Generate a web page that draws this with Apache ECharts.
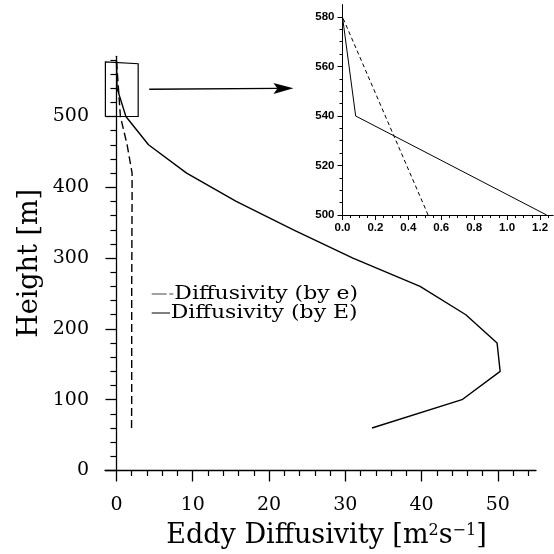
<!DOCTYPE html>
<html><head><meta charset="utf-8">
<script src="https://cdn.jsdelivr.net/npm/echarts@6/dist/echarts.min.js"></script>
<style>html,body{margin:0;padding:0;background:#fff}#c{width:554px;height:554px}</style>
</head><body><div id="c"></div>
<script>
// ---- data ----
const heights  = [60, 100, 140, 180, 220, 260, 300, 340, 380, 420, 460, 500, 540, 580];
const diffByE  = [33.5, 45.3, 50.3, 49.9, 45.8, 39.8, 31.0, 23.2, 15.7, 9.2, 4.2, 1.24, 0.08, 0.0];
const diffBye  = [1.98, 2.0, 2.0, 2.0, 2.0, 2.0, 2.02, 2.03, 2.05, 2.05, 1.4, 0.52, 0.26, 0.0];
const seriesNames = ['Diffusivity (by e)', 'Diffusivity (by E)'];
const mainXTicks = [0, 10, 20, 30, 40, 50];
const mainYTicks = [0, 100, 200, 300, 400, 500];
const insetXTicks = [0, 0.2, 0.4, 0.6, 0.8, 1.0, 1.2];
const insetYTicks = [500, 520, 540, 560, 580];
const insetMinHeight = 500;
// zoom box and arrow annotation, in main-plot data coordinates
const zoomBox = [[-1.45, 500], [-1.45, 577], [2.85, 574.5], [2.85, 500], [-1.45, 500]];
const arrowFrom = [4.3, 538.4];
const arrowTo = [23.2, 539.8];

// minor tick positions
function steps(a, b, n, skipEvery) {
  const out = [];
  for (let i = 0; i <= n; i++) {
    if (skipEvery && i % skipEvery === 0) continue;
    out.push(+(a + (b - a) * i / n).toFixed(4));
  }
  return out;
}
const mainXMinor = steps(0, 54, 27, 5);
const mainYMinor = steps(0, 580, 29, 5);
const insetXMinor = steps(0, 1.25, 25, 4);
const insetYMinor = steps(500, 580, 16, 4);

const SERIF = 'DejaVu Serif';
const SANS = 'Liberation Sans';
const black = '#000';

function pairs(xs, filterFn) {
  const out = [];
  heights.forEach((h, i) => { if (!filterFn || filterFn(h)) out.push([xs[i], h]); });
  return out;
}

const chart = echarts.init(document.getElementById('c'), null, {renderer: 'canvas'});

const mainTickAxis = (extra) => Object.assign({
  gridIndex: 0, type: 'value', min: -1.5, max: 55, position: 'bottom',
  splitLine: {show: false}
}, extra);

const option = {
  animation: false,
  backgroundColor: '#fff',
  grid: [
    {left: 105, right: 18, top: 56.3, bottom: 83.5, containLabel: false, outerBoundsMode: 'none'},
    {left: 342.5, right: 0.8, top: 4.6, bottom: 339, containLabel: false, outerBoundsMode: 'none'}
  ],
  xAxis: [
    mainTickAxis({
      axisLine: {onZero: false, lineStyle: {color: black, width: 1.3}},
      axisTick: {customValues: mainXTicks, length: 11, lineStyle: {color: black, width: 1.3}},
      axisLabel: {customValues: mainXTicks, margin: 25, fontFamily: SERIF, fontSize: 19, color: black, hideOverlap: false},
      name: 'Eddy Diffusivity [m{sup|2}s{sup|\u22121}]',
      nameLocation: 'middle', nameGap: 52, nameMoveOverlap: false,
      nameTextStyle: {fontFamily: SERIF, fontSize: 27, color: black, padding: [0, 0, 0, 12], lineHeight: 27,
        rich: {sup: {fontFamily: SERIF, fontSize: 16, color: black, verticalAlign: 'top', lineHeight: 16}}}
    }),
    mainTickAxis({
      axisLine: {show: false, onZero: false},
      axisTick: {customValues: mainXMinor, length: 5.5, lineStyle: {color: black, width: 1.2}},
      axisLabel: {show: false}
    }),
    {
      gridIndex: 1, type: 'value', min: 0, max: 1.28, position: 'bottom', splitLine: {show: false},
      axisLine: {onZero: false, lineStyle: {color: black, width: 1}},
      axisTick: {customValues: insetXTicks, length: 5, lineStyle: {color: black}},
      axisLabel: {customValues: insetXTicks, margin: 7, fontFamily: SANS, fontWeight: 'bold', fontSize: 11.5, color: black,
        formatter: v => v.toFixed(1)}
    },
    {
      gridIndex: 1, type: 'value', min: 0, max: 1.28, position: 'bottom', splitLine: {show: false},
      axisLine: {show: false, onZero: false},
      axisTick: {customValues: insetXMinor, length: 3, lineStyle: {color: black}},
      axisLabel: {show: false}
    }
  ],
  yAxis: [
    {
      gridIndex: 0, type: 'value', min: 0, max: 585, position: 'left', splitLine: {show: false},
      axisLine: {onZero: true, onZeroAxisIndex: 0, lineStyle: {color: black, width: 1.3}},
      axisTick: {customValues: mainYTicks, length: 11, lineStyle: {color: black, width: 1.3}},
      axisLabel: {customValues: mainYTicks, margin: 16, fontFamily: SERIF, fontSize: 19, color: black},
      name: 'Height [m]', nameLocation: 'middle', nameGap: 62, nameMoveOverlap: false,
      nameTextStyle: {fontFamily: SERIF, fontSize: 27, color: black}
    },
    {
      gridIndex: 0, type: 'value', min: 0, max: 585, position: 'left', splitLine: {show: false},
      axisLine: {show: false, onZero: true, onZeroAxisIndex: 0},
      axisTick: {customValues: mainYMinor, length: 6, lineStyle: {color: black, width: 1.2}},
      axisLabel: {show: false}
    },
    {
      gridIndex: 1, type: 'value', min: 500, max: 585, position: 'left', splitLine: {show: false},
      axisLine: {onZero: false, lineStyle: {color: black, width: 1}},
      axisTick: {customValues: insetYTicks, length: 5, lineStyle: {color: black}},
      axisLabel: {customValues: insetYTicks, margin: 8, fontFamily: SANS, fontWeight: 'bold', fontSize: 11.5, color: black}
    },
    {
      gridIndex: 1, type: 'value', min: 500, max: 585, position: 'left', splitLine: {show: false},
      axisLine: {show: false, onZero: false},
      axisTick: {customValues: insetYMinor, length: 3, lineStyle: {color: black}},
      axisLabel: {show: false}
    }
  ],
  series: [
    {name: seriesNames[0], type: 'line', xAxisIndex: 0, yAxisIndex: 0, data: pairs(diffBye),
      symbol: 'none', color: black, lineStyle: {color: black, width: 1.4, type: [8, 4]}},
    {name: seriesNames[1], type: 'line', xAxisIndex: 0, yAxisIndex: 0, data: pairs(diffByE),
      symbol: 'none', color: black, lineStyle: {color: black, width: 1.4}},
    {name: seriesNames[0], type: 'line', xAxisIndex: 2, yAxisIndex: 2, data: pairs(diffBye, h => h >= insetMinHeight),
      symbol: 'none', color: black, lineStyle: {color: black, width: 1, type: [4, 3]}},
    {name: seriesNames[1], type: 'line', xAxisIndex: 2, yAxisIndex: 2, data: pairs(diffByE, h => h >= insetMinHeight),
      symbol: 'none', color: black, lineStyle: {color: black, width: 1}}
  ]
};
chart.setOption(option);

// annotation: zoom box and arrow, positioned from data coordinates
const toPx = p => chart.convertToPixel({xAxisIndex: 0, yAxisIndex: 0}, p);
const boxPts = zoomBox.map(toPx);
const a0 = toPx(arrowFrom), a1 = toPx(arrowTo);
const dx = a1[0] - a0[0], dy = a1[1] - a0[1];
const L = Math.hypot(dx, dy), ux = dx / L, uy = dy / L, nx = -uy, ny = ux;
const headLen = 20, headHalf = 5.5, notch = 4;
const base = [a1[0] - ux * headLen, a1[1] - uy * headLen];

// hand-drawn style legend (dash glyphs + text), as in the reference
const legendX = 151.7, legendY = [294, 313];
const legendTextStyle = {fontFamily: SERIF, fontSize: 18, fill: black, verticalAlign: 'middle', align: 'left'};
chart.setOption({
  graphic: [
    {type: 'polyline', shape: {points: boxPts}, style: {stroke: black, lineWidth: 1.2, fill: null}, silent: true},
    {type: 'line', shape: {x1: a0[0], y1: a0[1], x2: base[0] + ux * notch, y2: base[1] + uy * notch},
      style: {stroke: black, lineWidth: 1.4}, silent: true},
    {type: 'polygon', shape: {points: [
      a1,
      [base[0] + nx * headHalf, base[1] + ny * headHalf],
      [base[0] + ux * notch, base[1] + uy * notch],
      [base[0] - nx * headHalf, base[1] - ny * headHalf]
    ]}, style: {fill: black, stroke: null}, silent: true},
    // legend row 1 (dashed)
    {type: 'line', shape: {x1: legendX, y1: legendY[0], x2: legendX + 15, y2: legendY[0]}, style: {stroke: '#444', lineWidth: 1}, silent: true},
    {type: 'line', shape: {x1: legendX + 17.6, y1: legendY[0], x2: legendX + 21.6, y2: legendY[0]}, style: {stroke: '#444', lineWidth: 1}, silent: true},
    {type: 'text', x: legendX + 22.6, y: legendY[0], scaleX: 1.22, style: Object.assign({text: seriesNames[0]}, legendTextStyle), silent: true},
    // legend row 2 (solid)
    {type: 'line', shape: {x1: legendX, y1: legendY[1], x2: legendX + 18.3, y2: legendY[1]}, style: {stroke: black, lineWidth: 1}, silent: true},
    {type: 'text', x: legendX + 19, y: legendY[1], scaleX: 1.22, style: Object.assign({text: seriesNames[1]}, legendTextStyle), silent: true}
  ]
});
</script>
</body></html>
